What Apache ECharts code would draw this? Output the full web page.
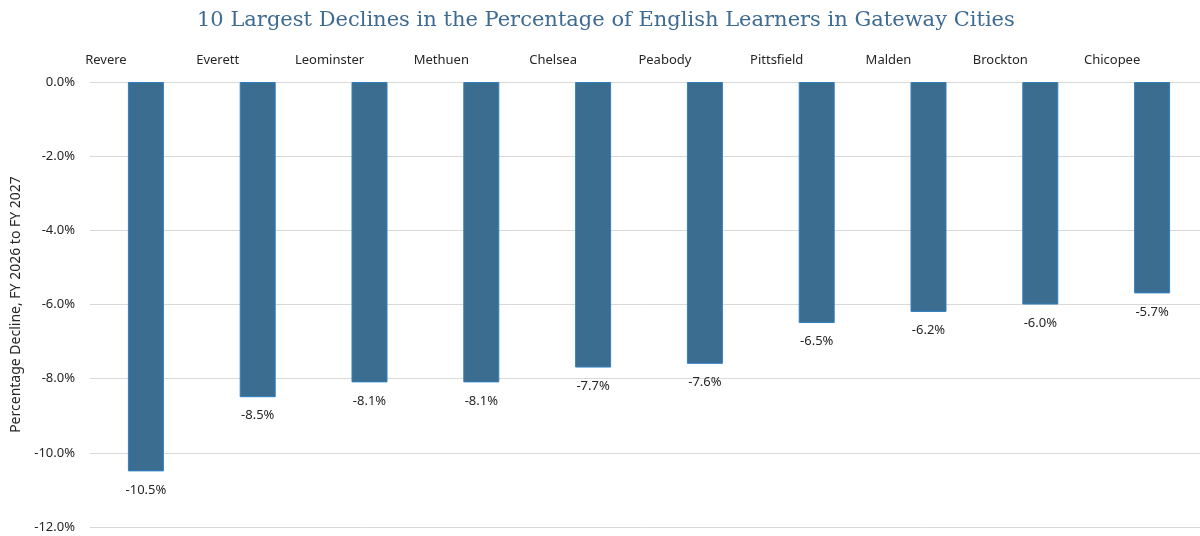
<!DOCTYPE html>
<html>
<head>
    <meta charset="utf-8">
    <style>
        html, body { margin: 0; padding: 0; background: #fff; }
        #main { width: 1200px; height: 536px; }
    </style>
    <script src="https://cdn.jsdelivr.net/npm/echarts@6/dist/echarts.min.js"></script>
</head>
<body>
    <div id="main"></div>
    <script type="text/javascript">
        // cities, in the order shown
        var cities = ['Revere', 'Everett', 'Leominster', 'Methuen', 'Chelsea',
                      'Peabody', 'Pittsfield', 'Malden', 'Brockton', 'Chicopee'];
        // change in share of English learners (percentage points)
        var declines = [-10.5, -8.5, -8.1, -8.1, -7.7, -7.6, -6.5, -6.2, -6.0, -5.7];
        var yTicks = { min: -12, max: 0, step: 2 };

        var myChart = echarts.init(document.getElementById('main'));
        var labelFont = '"Noto Sans", "Open Sans", sans-serif';

        var option = {
            backgroundColor: '#ffffff',
            animation: false,
            title: {
                text: '10 Largest Declines in the Percentage of English Learners in Gateway Cities',
                left: 192,
                top: 5,
                textStyle: {
                    fontFamily: '"DejaVu Serif", "Liberation Serif", serif',
                    fontSize: 21,
                    fontWeight: 'normal',
                    color: '#3e6b93'
                }
            },
            grid: {
                left: 90,
                right: -8,   // the original plot runs past the right edge
                top: 82,
                bottom: 9,
                outerBoundsMode: 'none'
            },
            xAxis: {
                type: 'category',
                position: 'top',
                data: cities,
                axisLine: { show: false },
                axisTick: { show: false },
                axisLabel: {
                    color: '#262626',
                    fontFamily: labelFont,
                    fontSize: 13,
                    margin: 15,
                    padding: [0, 80, 0, 0]
                }
            },
            yAxis: {
                type: 'value',
                min: yTicks.min,
                max: yTicks.max,
                interval: yTicks.step,
                name: 'Percentage Decline, FY 2026 to FY 2027',
                nameLocation: 'middle',
                nameGap: 66,
                nameTextStyle: {
                    color: '#262626',
                    fontFamily: labelFont,
                    fontSize: 14
                },
                axisLine: { show: false },
                axisTick: { show: false },
                axisLabel: {
                    color: '#262626',
                    fontFamily: labelFont,
                    fontSize: 13,
                    margin: 15,
                    formatter: function (v) { return v.toFixed(1) + '%'; }
                },
                splitLine: {
                    lineStyle: { color: '#d9d9d9', width: 1 }
                }
            },
            series: [{
                type: 'bar',
                data: declines,
                barWidth: 36,
                itemStyle: {
                    color: '#3b6d90',
                    borderColor: '#2f7fc4',
                    borderWidth: 1
                },
                label: {
                    show: true,
                    position: 'bottom',
                    distance: 12,
                    color: '#262626',
                    fontFamily: labelFont,
                    fontSize: 13,
                    formatter: function (p) { return p.value.toFixed(1) + '%'; }
                }
            }]
        };

        myChart.setOption(option);
    </script>
</body>
</html>
